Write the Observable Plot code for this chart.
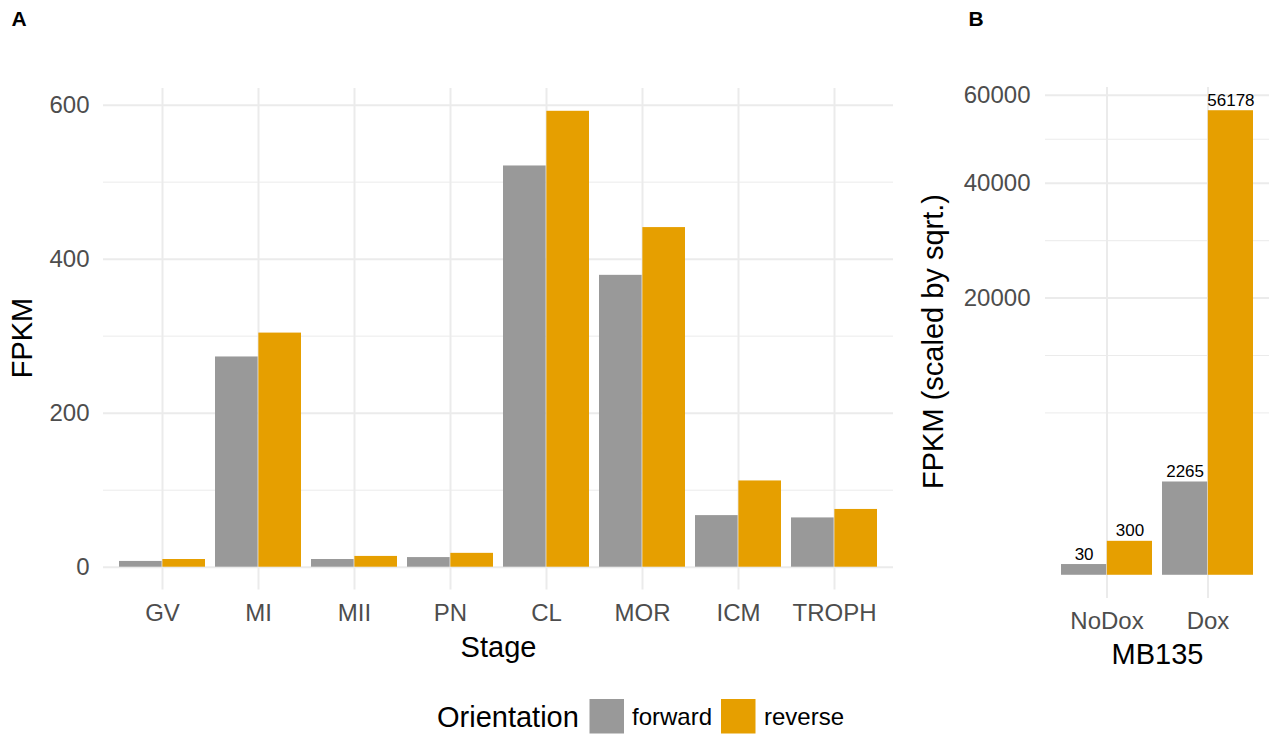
<!DOCTYPE html>
<html><head><meta charset="utf-8">
<script src="https://cdn.jsdelivr.net/npm/d3@7"></script>
<script src="https://cdn.jsdelivr.net/npm/@observablehq/plot@0.6"></script>
<style>
html,body{margin:0;padding:0;background:#fff;}
#root{position:relative;width:1269px;height:737px;overflow:hidden;font-family:"Liberation Sans",Arial,sans-serif;}
#root > svg{position:absolute;top:0;}
</style></head><body><div id="root"></div>
<script>
// ---- data ----
const stages = ["GV","MI","MII","PN","CL","MOR","ICM","TROPH"];
const forwardFPKM = [7.5, 273, 10, 12.5, 521, 379, 67, 64];
const reverseFPKM = [10, 304, 14, 18, 592, 441, 112, 75];
const orientations = ["forward","reverse"];
const orientationColors = ["#999999","#E69F00"];
const conditionsB = ["NoDox","Dox"];
const forwardB = [30, 2265];
const reverseB = [300, 56178];
const yTicksA = [0,200,400,600];
const yMinorA = [100,300,500];
const yTicksB = [20000,40000,60000];
const yMinorB = [6863,12573,29142,49495];

const FONT = '"Liberation Sans", Arial, sans-serif';
const GRID = "#EBEBEB";
const TICKC = "#4D4D4D";
const root = document.getElementById("root");

const dataA = stages.flatMap((s,i)=>[
  {stage:s, orientation:"forward", value:forwardFPKM[i]},
  {stage:s, orientation:"reverse", value:reverseFPKM[i]}]);
const dataB = conditionsB.flatMap((c,i)=>[
  {cond:c, orientation:"forward", value:forwardB[i]},
  {cond:c, orientation:"reverse", value:reverseB[i]}]);

// ---- Panel A ----
{
  const W = 900, H = 737, mL = 103, mR = 7, mT = 88, frameBottom = 589.5;
  const maxA = d3.max(dataA, d=>d.value);
  const step = (W - mL - mR) / (stages.length - 0.1 + 0.3);
  const bw = step * 0.9;
  const color = {domain: orientations, range: orientationColors};
  const p = Plot.plot({
    width: W, height: H, marginLeft: mL, marginRight: mR, marginTop: mT, marginBottom: H - frameBottom,
    style: {fontFamily: FONT, background: "transparent"},
    x: {domain: stages, paddingInner: 0.1, paddingOuter: 0.15, align: 0.5, label: null},
    y: {domain: [-0.05*maxA, 1.05*maxA], label: null},
    color,
    marks: [
      Plot.gridY(yMinorA, {stroke: GRID, strokeOpacity: 1, strokeWidth: 1}),
      Plot.gridY(yTicksA, {stroke: GRID, strokeOpacity: 1, strokeWidth: 2}),
      Plot.gridX({stroke: GRID, strokeOpacity: 1, strokeWidth: 2}),
      Plot.barY(dataA.filter(d=>d.orientation==="forward"), {x:"stage", y1: 0, y2:"value", fill:"orientation", insetLeft: 0, insetRight: bw/2}),
      Plot.barY(dataA.filter(d=>d.orientation==="reverse"), {x:"stage", y1: 0, y2:"value", fill:"orientation", insetLeft: bw/2, insetRight: 0}),
      Plot.axisY(yTicksA, {tickSize: 0, tickPadding: 14, fontSize: 24, color: TICKC, label: null}),
      Plot.axisX({tickSize: 0, tickPadding: 14, fontSize: 24, color: TICKC, label: null}),
      Plot.text(["Stage"], {text: d=>d, frameAnchor: "bottom", textAnchor: "middle", lineAnchor: "middle", dy: 58.2, fontSize: 29, fill: "black"}),
      Plot.text(["FPKM"], {text: d=>d, frameAnchor: "left", textAnchor: "middle", lineAnchor: "middle", rotate: -90, dx: -80.3, dy: -1.2, fontSize: 29, fill: "black"})
    ]
  });
  p.style.left = "0px";
  root.appendChild(p);
}

// ---- Panel B ----
{
  const left = 900, W = 369, H = 737, mL = 145, mR = 0, mT = 87, frameBottom = 598;
  const t = Math.sqrt(d3.max(dataB, d=>d.value));
  const k = (frameBottom - mT) / (1.1 * t);
  const zeroY = frameBottom - 0.05 * t * k;
  const step = (W - mL - mR) / (conditionsB.length - 0.1 + 0.3);
  const bw = step * 0.9;
  const p = Plot.plot({
    width: W, height: H, marginLeft: mL, marginRight: mR, marginTop: mT, marginBottom: H - frameBottom,
    style: {fontFamily: FONT, background: "transparent"},
    x: {domain: conditionsB, paddingInner: 0.1, paddingOuter: 0.15, align: 0.5, label: null},
    y: {type: "sqrt", domain: [0, (1.05*t)**2], range: [zeroY, mT], label: null},
    color: {domain: orientations, range: orientationColors},
    marks: [
      Plot.gridY(yMinorB, {stroke: GRID, strokeOpacity: 1, strokeWidth: 1}),
      Plot.gridY(yTicksB, {stroke: GRID, strokeOpacity: 1, strokeWidth: 2}),
      Plot.gridX({stroke: GRID, strokeOpacity: 1, strokeWidth: 2}),
      Plot.barY(dataB.filter(d=>d.orientation==="forward"), {x:"cond", y1: 0, y2:"value", fill:"orientation", insetLeft: 0, insetRight: bw/2}),
      Plot.barY(dataB.filter(d=>d.orientation==="reverse"), {x:"cond", y1: 0, y2:"value", fill:"orientation", insetLeft: bw/2, insetRight: 0}),
      Plot.text(dataB.filter(d=>d.orientation==="forward"), {x:"cond", y:"value", text: d=>String(d.value), dx: -bw/4, dy: -10.4, fontSize: 17, fill: "black"}),
      Plot.text(dataB.filter(d=>d.orientation==="reverse"), {x:"cond", y:"value", text: d=>String(d.value), dx: bw/4, dy: -10.4, fontSize: 17, fill: "black"}),
      Plot.axisY(yTicksB, {tickSize: 0, tickPadding: 15, fontSize: 24, color: TICKC, label: null, tickFormat: d=>String(d)}),
      Plot.axisX({tickSize: 0, tickPadding: 13, fontSize: 24, color: TICKC, label: null}),
      Plot.text(["MB135"], {text: d=>d, frameAnchor: "bottom", textAnchor: "middle", lineAnchor: "middle", dy: 56.7, fontSize: 29, fill: "black"}),
      Plot.text(["FPKM (scaled by sqrt.)"], {text: d=>d, frameAnchor: "left", textAnchor: "middle", lineAnchor: "middle", rotate: -90, dx: -111.3, dy: -1.5, fontSize: 29, fill: "black"})
    ]
  });
  p.style.left = left + "px";
  root.appendChild(p);
}

// ---- tags & legend ----
{
  const svg = d3.select(root).append("svg")
    .attr("width", 1269).attr("height", 737)
    .style("left", "0px").style("pointer-events", "none")
    .style("font-family", FONT);
  svg.append("text").attr("x", 11.5).attr("y", 26).attr("font-size", 21).attr("font-weight", "bold").text("A");
  svg.append("text").attr("x", 968.5).attr("y", 26).attr("font-size", 21).attr("font-weight", "bold").text("B");
  const lg = svg.append("g");
  lg.append("text").attr("x", 437).attr("y", 727).attr("font-size", 29).attr("fill", "black").text("Orientation");
  const keyX = [589.5, 721];
  const labX = [632, 764];
  orientations.forEach((o,i)=>{
    lg.append("rect").attr("x", keyX[i]).attr("y", 699).attr("width", 34.5).attr("height", 34.5).attr("fill", orientationColors[i]);
    lg.append("text").attr("x", labX[i]).attr("y", 725).attr("font-size", 24).attr("fill", "black").text(o);
  });
}
</script>
</body></html>
